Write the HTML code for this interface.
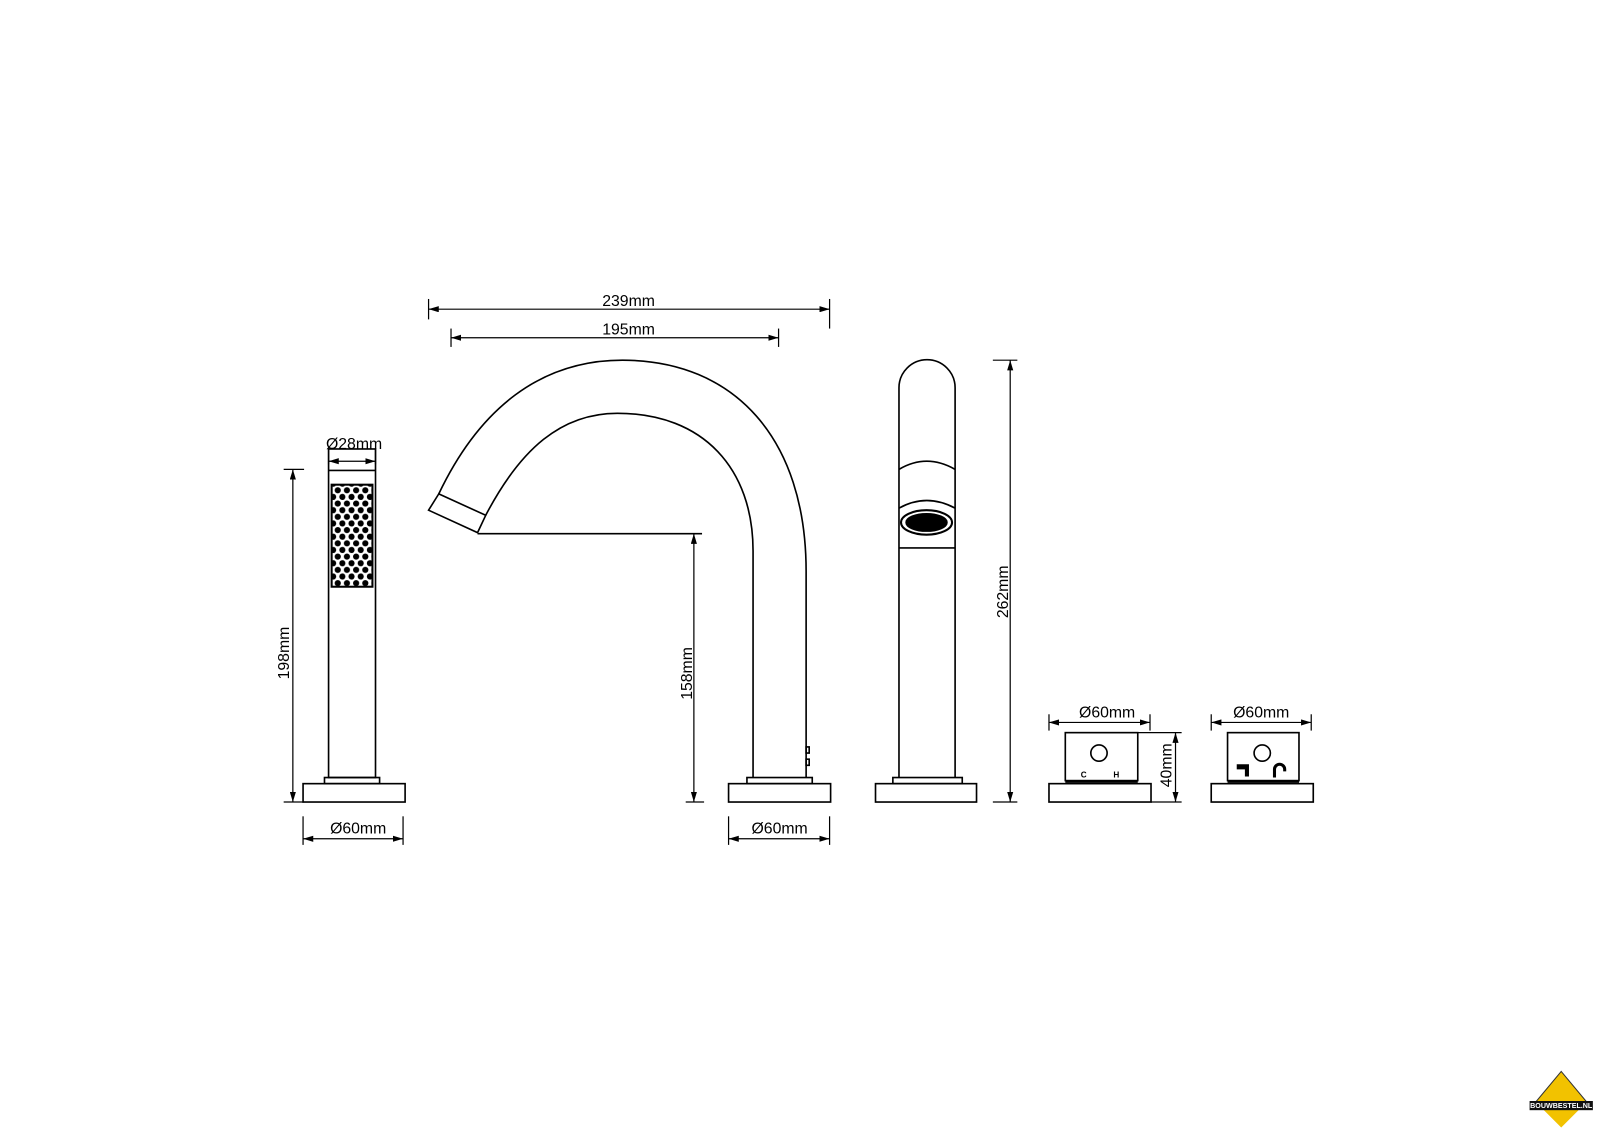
<!DOCTYPE html>
<html><head><meta charset="utf-8"><style>
html,body{margin:0;padding:0;background:#fff;}
svg{display:block;}
text{font-family:"Liberation Sans",Arial,sans-serif;font-size:15.5px;fill:#000;}
</style></head><body>
<svg width="1600" height="1131" viewBox="0 0 1568 1108.4" preserveAspectRatio="none" xmlns="http://www.w3.org/2000/svg">
<defs>
<marker id="a" viewBox="0 0 10 6" refX="10" refY="3" markerWidth="10" markerHeight="6" orient="auto-start-reverse" markerUnits="userSpaceOnUse"><path d="M0,0 L10,3 L0,6 z" fill="#000"/></marker>
<pattern id="dots" x="327" y="477" width="9" height="13" patternUnits="userSpaceOnUse">
<circle cx="4" cy="3.5" r="3" fill="#000"/><circle cx="8.5" cy="10" r="3" fill="#000"/><circle cx="-0.5" cy="10" r="3" fill="#000"/>
</pattern>
</defs>
<rect width="1568" height="1109" fill="#fff"/>
<g fill="none" stroke="#000" stroke-width="1.6">
<rect x="322" y="440" width="46" height="322"/>
<line x1="322" y1="461" x2="368" y2="461"/>
<rect x="325" y="475" width="40" height="100" fill="url(#dots)" stroke-width="2"/>
<rect x="318" y="762" width="54" height="6"/>
<rect x="297" y="768" width="100" height="18"/>
<path d="M430,484 C470,400 530,353 610,353 C720,353 790,430 790,560 L790,762"/>
<path d="M476,505 C510,440 550,405 605,405 C690,405 738,460 738,540 L738,762"/>
<path d="M430,484 L476,505 L468,522 L420,500 Z"/>
<line x1="468" y1="523" x2="688" y2="523"/>
<rect x="732" y="762" width="64" height="6"/>
<rect x="714" y="768" width="100" height="18"/>
<rect x="790" y="732" width="3" height="6"/><rect x="790" y="744" width="3" height="6"/>
<path d="M881,762 L881,380 A27.5,27.5 0 0 1 936,380 L936,762"/>
<path d="M881,460 Q908,444 936,460"/>
<path d="M881,498 Q908,483 936,498"/>
<ellipse cx="908" cy="512" rx="25" ry="12" stroke-width="2"/>
<ellipse cx="908" cy="512" rx="20" ry="8.5" fill="#000"/>
<line x1="881" y1="537" x2="936" y2="537"/>
<rect x="875" y="762" width="68" height="6"/>
<rect x="858" y="768" width="99" height="18"/>
<rect x="1044" y="718" width="71" height="47"/>
<circle cx="1077" cy="738" r="8"/>
<rect x="1028" y="768" width="100" height="18"/>
<line x1="1044" y1="766" x2="1115" y2="766" stroke-width="2.5"/>
<rect x="1203" y="718" width="70" height="47"/>
<circle cx="1237" cy="738" r="8"/>
<rect x="1187" y="768" width="100" height="18"/>
<line x1="1203" y1="766" x2="1273" y2="766" stroke-width="2.5"/>
<path d="M1249,762 L1249,754 A5,5 0 0 1 1259,754 L1259,756" stroke-width="3"/>
</g>
<path d="M1212,749 L1224,749 L1224,761 L1220,761 L1220,754 L1212,754 Z" fill="#000"/>
<text x="1062" y="762" style="font-size:8px;font-weight:bold" text-anchor="middle">C</text>
<text x="1094" y="762" style="font-size:8px;font-weight:bold" text-anchor="middle">H</text>
<g stroke="#000" stroke-width="1.2" fill="none">
<line x1="420" y1="293" x2="420" y2="313"/><line x1="813" y1="293" x2="813" y2="322"/>
<line x1="420" y1="303" x2="813" y2="303" marker-start="url(#a)" marker-end="url(#a)"/>
<line x1="442" y1="322" x2="442" y2="340"/><line x1="763" y1="322" x2="763" y2="340"/>
<line x1="442" y1="331" x2="763" y2="331" marker-start="url(#a)" marker-end="url(#a)"/>
<line x1="322" y1="440" x2="322" y2="455"/><line x1="368" y1="440" x2="368" y2="455"/>
<line x1="322" y1="452" x2="368" y2="452" marker-start="url(#a)" marker-end="url(#a)"/>
<line x1="278" y1="460" x2="298" y2="460"/><line x1="278" y1="786" x2="298" y2="786"/>
<line x1="287" y1="460" x2="287" y2="786" marker-start="url(#a)" marker-end="url(#a)"/>
<line x1="297" y1="800" x2="297" y2="828"/><line x1="395" y1="800" x2="395" y2="828"/>
<line x1="297" y1="822" x2="395" y2="822" marker-start="url(#a)" marker-end="url(#a)"/>
<line x1="680" y1="523" x2="680" y2="786" marker-start="url(#a)" marker-end="url(#a)"/>
<line x1="672" y1="786" x2="690" y2="786"/>
<line x1="714" y1="800" x2="714" y2="828"/><line x1="813" y1="800" x2="813" y2="828"/>
<line x1="714" y1="822" x2="813" y2="822" marker-start="url(#a)" marker-end="url(#a)"/>
<line x1="973" y1="353" x2="997" y2="353"/><line x1="973" y1="786" x2="997" y2="786"/>
<line x1="990" y1="353" x2="990" y2="786" marker-start="url(#a)" marker-end="url(#a)"/>
<line x1="1028" y1="700" x2="1028" y2="716"/><line x1="1127" y1="700" x2="1127" y2="716"/>
<line x1="1028" y1="708" x2="1127" y2="708" marker-start="url(#a)" marker-end="url(#a)"/>
<line x1="1115" y1="718" x2="1158" y2="718"/><line x1="1128" y1="786" x2="1158" y2="786"/>
<line x1="1152" y1="718" x2="1152" y2="786" marker-start="url(#a)" marker-end="url(#a)"/>
<line x1="1187" y1="700" x2="1187" y2="716"/><line x1="1285" y1="700" x2="1285" y2="716"/>
<line x1="1187" y1="708" x2="1285" y2="708" marker-start="url(#a)" marker-end="url(#a)"/>
</g>
<text x="616" y="300" text-anchor="middle">239mm</text>
<text x="616" y="328" text-anchor="middle">195mm</text>
<text x="347" y="440" text-anchor="middle">Ø28mm</text>
<text x="351" y="817" text-anchor="middle">Ø60mm</text>
<text x="764" y="817" text-anchor="middle">Ø60mm</text>
<text x="1085" y="703" text-anchor="middle">Ø60mm</text>
<text x="1236" y="703" text-anchor="middle">Ø60mm</text>
<text transform="translate(283,640) rotate(-90)" text-anchor="middle">198mm</text>
<text transform="translate(678,660) rotate(-90)" text-anchor="middle">158mm</text>
<text transform="translate(988,580) rotate(-90)" text-anchor="middle">262mm</text>
<text transform="translate(1148,750) rotate(-90)" text-anchor="middle">40mm</text>
<path d="M1530,1050 L1555,1080 L1505,1080 Z" fill="#f2c200" stroke="#333" stroke-width="1"/>
<path d="M1505,1080 L1530,1105 L1555,1080 Z" fill="#f2c200"/>
<rect x="1499" y="1079" width="62" height="9" fill="#111"/>
<text x="1530" y="1086" text-anchor="middle" style="font-size:7px;fill:#fff;font-weight:bold">BOUWBESTEL.NL</text>
</svg>
</body></html>
